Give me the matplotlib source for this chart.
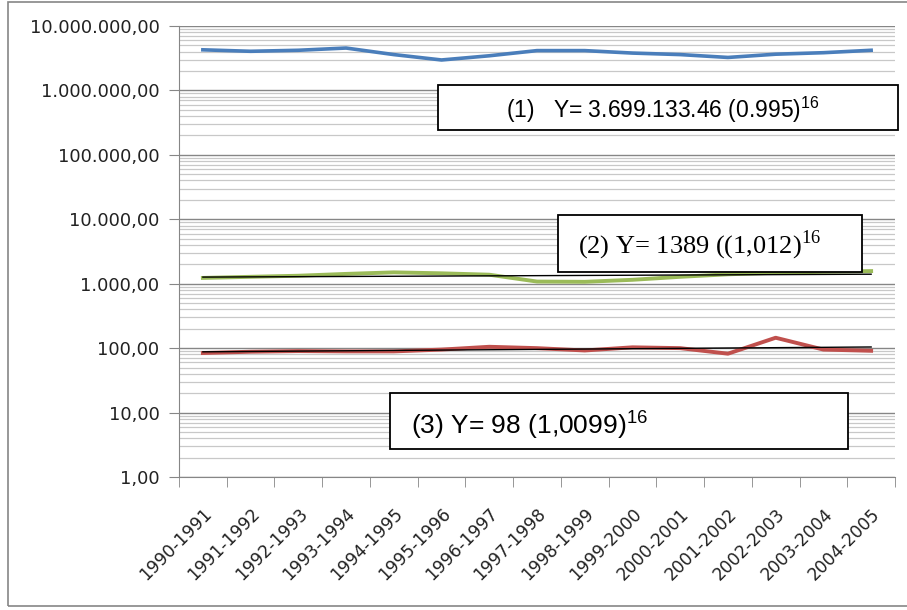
import numpy as np
import matplotlib.pyplot as plt
from matplotlib.ticker import FixedLocator, FuncFormatter, LogLocator, NullFormatter
from matplotlib.patches import Rectangle

# --- data ---
periods = ['1990-1991', '1991-1992', '1992-1993', '1993-1994', '1994-1995',
           '1995-1996', '1996-1997', '1997-1998', '1998-1999', '1999-2000',
           '2000-2001', '2001-2002', '2002-2003', '2003-2004', '2004-2005']
blue = [4270000, 4050000, 4200000, 4550000, 3600000, 2970000, 3450000, 4150000,
        4150000, 3800000, 3600000, 3250000, 3650000, 3850000, 4200000]
green = [1230, 1280, 1330, 1420, 1500, 1450, 1380, 1080, 1070, 1150,
         1280, 1400, 1480, 1530, 1570]
red = [84, 88, 90, 89, 89, 95, 105, 100, 92, 103, 100, 82, 145, 95, 91]

eq1 = r'(1)   Y= 3.699.133.46 (0.995)$^{\mathsf{16}}$'
eq2 = r'(2) Y= 1389 ((1,012)$^{\mathrm{16}}$'
eq3 = r'(3) Y= 98 (1,0099)$^{\mathsf{16}}$'

plt.rcParams['font.family'] = ['DejaVu Sans']
plt.rcParams['mathtext.fontset'] = 'custom'
plt.rcParams['mathtext.rm'] = 'Liberation Serif'
plt.rcParams['mathtext.sf'] = 'Liberation Sans'

W, H = 907, 610
fig = plt.figure(figsize=(W / 100, H / 100), dpi=100)
ax = fig.add_axes([179 / W, 1 - 477 / H, 716 / W, 451 / H])

x = np.arange(len(periods))


def trend(vals):
    # exponential trend, like Excel's fitted line
    k, b = np.polyfit(x, np.log(vals), 1)
    return np.exp(b + k * x)


ax.plot(x, blue, color='#4a7ebb', lw=2.6, zorder=3)
ax.plot(x, green, color='#9bbb59', lw=2.8, zorder=3)
ax.plot(x, trend(green), color='black', lw=1.0, zorder=4)
ax.plot(x, red, color='#c0504d', lw=2.8, zorder=3)
ax.plot(x, trend(red), color='black', lw=1.0, zorder=4)

ax.set_yscale('log')
ax.set_ylim(1, 1e7)
ax.set_xlim(-0.5, len(periods) - 0.5)


def fmt(v, pos):
    s = f'{v:,.2f}'
    return s.replace(',', 'X').replace('.', ',').replace('X', '.')


ax.yaxis.set_major_locator(LogLocator(base=10, numticks=10))
ax.yaxis.set_major_formatter(FuncFormatter(fmt))
ax.yaxis.set_minor_locator(LogLocator(base=10, subs=np.arange(2, 10), numticks=20))
ax.yaxis.set_minor_formatter(NullFormatter())
ax.grid(True, which='major', axis='y', color='#868686', lw=1.0, zorder=0)
ax.grid(True, which='minor', axis='y', color='#c8c8c8', lw=0.9, zorder=0)
ax.tick_params(axis='y', which='major', length=7, color='#868686', labelsize=13,
               pad=7, labelcolor='#222222')
ax.tick_params(axis='y', which='minor', length=0)

ax.set_xticks(x)
ax.set_xticklabels(periods, rotation=45, ha='right', rotation_mode='anchor',
                   fontsize=12.3, color='#222222')
ax.xaxis.set_minor_locator(FixedLocator(np.arange(-0.5, len(periods), 1)))
ax.tick_params(axis='x', which='major', length=0, pad=20)
ax.tick_params(axis='x', which='minor', length=7, color='#868686')

for s in ['top', 'right']:
    ax.spines[s].set_visible(False)
for s in ['left', 'bottom']:
    ax.spines[s].set_color('#868686')


# --- equation boxes (figure pixel coords) ---
def box(x0, y0, x1, y1, text, tx, ty, ha, fam, size):
    fig.patches.append(Rectangle((x0 / W, 1 - y1 / H), (x1 - x0) / W, (y1 - y0) / H,
                                 transform=fig.transFigure, facecolor='white',
                                 edgecolor='black', lw=1.3, zorder=5))
    fig.text(tx / W, 1 - ty / H, text, ha=ha, va='baseline',
             family=fam, fontsize=size, zorder=6)


box(438, 85, 898, 130, eq1, 663, 118, 'center', ['Liberation Sans'], 16.5)
box(390, 393, 848, 449, eq3, 411, 434, 'left', ['Liberation Sans'], 19)
box(558, 215, 862, 272, eq2, 578, 253, 'left', ['Liberation Serif'], 19)

# outer chart frame
fig.patches.append(Rectangle((8 / W, 1 - 606 / H), 910 / W, 604 / H,
                             transform=fig.transFigure, fill=False,
                             edgecolor='#868686', lw=1.2))

fig.savefig('out.png', dpi=100)
